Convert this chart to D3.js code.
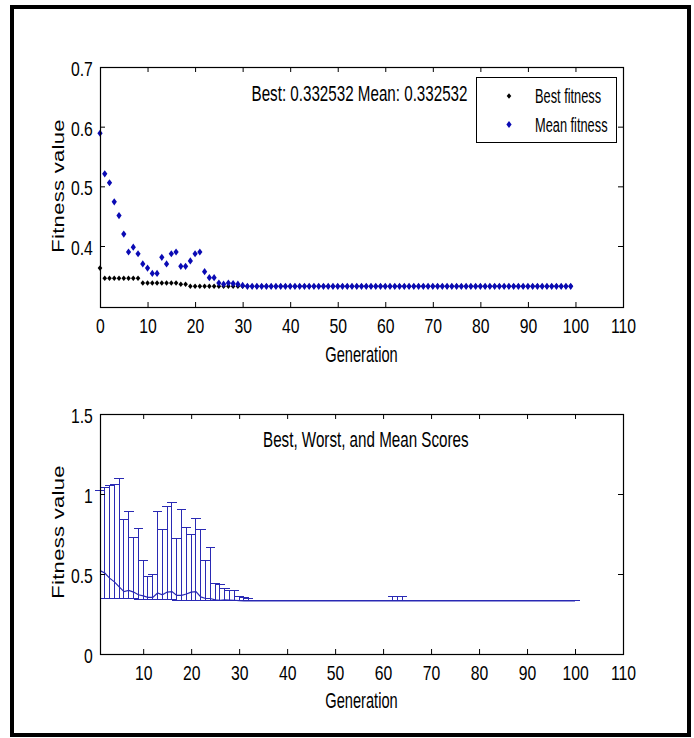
<!DOCTYPE html>
<html>
<head>
<meta charset="utf-8">
<script src="https://cdn.jsdelivr.net/npm/d3@7"></script>
<style>
  body { margin: 0; background: #fff; }
  text { font-family: "Liberation Sans", Arial, sans-serif; fill: #000; }
</style>
</head>
<body>
<div id="chart"></div>
<script>

// best and mean fitness, generation 0..100
var bestFitness = [
  0.363, 0.346, 0.346, 0.346, 0.346, 0.346, 0.346, 0.346, 0.346, 0.338,
  0.338, 0.338, 0.338, 0.338, 0.338, 0.338, 0.338, 0.336, 0.336, 0.3325,
  0.3325, 0.3325, 0.3325, 0.3325, 0.3325, 0.3325, 0.3325, 0.3325, 0.3325, 0.3325,
  0.3325, 0.3325, 0.3325, 0.3325, 0.3325, 0.3325, 0.3325, 0.3325, 0.3325, 0.3325,
  0.3325, 0.3325, 0.3325, 0.3325, 0.3325, 0.3325, 0.3325, 0.3325, 0.3325, 0.3325,
  0.3325, 0.3325, 0.3325, 0.3325, 0.3325, 0.3325, 0.3325, 0.3325, 0.3325, 0.3325,
  0.3325, 0.3325, 0.3325, 0.3325, 0.3325, 0.3325, 0.3325, 0.3325, 0.3325, 0.3325,
  0.3325, 0.3325, 0.3325, 0.3325, 0.3325, 0.3325, 0.3325, 0.3325, 0.3325, 0.3325,
  0.3325, 0.3325, 0.3325, 0.3325, 0.3325, 0.3325, 0.3325, 0.3325, 0.3325, 0.3325,
  0.3325, 0.3325, 0.3325, 0.3325, 0.3325, 0.3325, 0.3325, 0.3325, 0.3325, 0.3325,
  0.3325
];
var meanFitness = [
  0.589, 0.521, 0.506, 0.474, 0.451, 0.420, 0.390, 0.398, 0.387, 0.370,
  0.363, 0.354, 0.354, 0.381, 0.370, 0.387, 0.390, 0.366, 0.366, 0.375,
  0.387, 0.390, 0.357, 0.347, 0.347, 0.338, 0.336, 0.338, 0.337, 0.336,
  0.334, 0.3325, 0.3325, 0.3325, 0.3325, 0.3325, 0.3325, 0.3325, 0.3325, 0.3325,
  0.3325, 0.3325, 0.3325, 0.3325, 0.3325, 0.3325, 0.3325, 0.3325, 0.3325, 0.3325,
  0.3325, 0.3325, 0.3325, 0.3325, 0.3325, 0.3325, 0.3325, 0.3325, 0.3325, 0.3325,
  0.3325, 0.3325, 0.3325, 0.3325, 0.3325, 0.3325, 0.3325, 0.3325, 0.3325, 0.3325,
  0.3325, 0.3325, 0.3325, 0.3325, 0.3325, 0.3325, 0.3325, 0.3325, 0.3325, 0.3325,
  0.3325, 0.3325, 0.3325, 0.3325, 0.3325, 0.3325, 0.3325, 0.3325, 0.3325, 0.3325,
  0.3325, 0.3325, 0.3325, 0.3325, 0.3325, 0.3325, 0.3325, 0.3325, 0.3325, 0.3325,
  0.3325
];
// worst score, generation 1..100
var worstScore = [
  1.02, 1.04, 1.056, 1.06, 1.098, 0.84, 0.89, 0.731, 0.783, 0.586,
  0.483, 0.497, 0.89, 0.776, 0.921, 0.944, 0.72, 0.903, 0.793, 0.745,
  0.845, 0.776, 0.582, 0.665, 0.441, 0.435, 0.41, 0.40, 0.40, 0.362,
  0.352, 0.345, 0.3325, 0.3325, 0.3325, 0.3325, 0.3325, 0.3325, 0.3325, 0.3325,
  0.3325, 0.3325, 0.3325, 0.3325, 0.3325, 0.3325, 0.3325, 0.3325, 0.3325, 0.3325,
  0.3325, 0.3325, 0.3325, 0.3325, 0.3325, 0.3325, 0.3325, 0.3325, 0.3325, 0.3325,
  0.3325, 0.358, 0.358, 0.358, 0.3325, 0.3325, 0.3325, 0.3325, 0.3325, 0.3325,
  0.3325, 0.3325, 0.3325, 0.3325, 0.3325, 0.3325, 0.3325, 0.3325, 0.3325, 0.3325,
  0.3325, 0.3325, 0.3325, 0.3325, 0.3325, 0.3325, 0.3325, 0.3325, 0.3325, 0.3325,
  0.3325, 0.3325, 0.3325, 0.3325, 0.3325, 0.3325, 0.3325, 0.3325, 0.3325, 0.3325
];

var topXTicks = [0, 10, 20, 30, 40, 50, 60, 70, 80, 90, 100, 110];
var topYTicks = [0.4, 0.5, 0.6, 0.7];
var botXTicks = [10, 20, 30, 40, 50, 60, 70, 80, 90, 100, 110];
var botYTicks = [0, 0.5, 1, 1.5];
var legendLabels = ["Best fitness", "Mean fitness"];
var topTitle = "Best: 0.332532 Mean: 0.332532";
var botTitle = "Best, Worst, and Mean Scores";

var blue = "#0a0ab4",
    lineBlue = "#2a2ab4";

var svg = d3.select("#chart").append("svg")
    .attr("width", 694)
    .attr("height", 738);

// outer frame
svg.append("rect")
    .attr("x", 12).attr("y", 7)
    .attr("width", 677).attr("height", 728)
    .attr("fill", "none")
    .attr("stroke", "#000")
    .attr("stroke-width", 4);

function label(x, y, str, anchor, size, sx) {
  return svg.append("text")
      .attr("transform", "translate(" + x + "," + y + ") scale(" + sx + ",1)")
      .attr("text-anchor", anchor)
      .style("font-size", size + "px")
      .text(str);
}

function ylabel(x, y, str) {
  return svg.append("text")
      .attr("transform", "translate(" + x + "," + y + ") rotate(-90) scale(1,0.72)")
      .attr("text-anchor", "middle")
      .style("font-size", "22px")
      .style("letter-spacing", "0.3px")
      .text(str);
}

function diamond(hw, hh) {
  return "M0," + (-hh) + "L" + hw + ",0L0," + hh + "L" + (-hw) + ",0Z";
}

// box, inward ticks on all four sides, labels bottom and left
function drawAxes(x, y, xt, yt) {
  var x0 = x.range()[0], x1 = x.range()[1],
      y0 = y.range()[1], y1 = y.range()[0];

  svg.append("g").attr("transform", "translate(0," + y1 + ")")
      .call(d3.axisBottom(x).tickValues(xt).tickSize(-5).tickSizeOuter(0).tickPadding(11.5))
      .call(function(g) { g.select(".domain").remove(); })
      .selectAll("text").style("font-size", "21px").attr("transform", "scale(0.75,1)");

  svg.append("g").attr("transform", "translate(0," + y0 + ")")
      .call(d3.axisTop(x).tickValues(xt).tickSize(-5).tickSizeOuter(0).tickFormat(""))
      .call(function(g) { g.select(".domain").remove(); });

  svg.append("g").attr("transform", "translate(" + x0 + ",0)")
      .call(d3.axisLeft(y).tickValues(yt).tickSize(-5).tickSizeOuter(0).tickPadding(9.5)
        .tickFormat(d3.format("")))
      .call(function(g) { g.select(".domain").remove(); })
      .selectAll("text").style("font-size", "21px").attr("dy", "0.4em")
      .attr("transform", "scale(0.75,1)");

  svg.append("g").attr("transform", "translate(" + x1 + ",0)")
      .call(d3.axisRight(y).tickValues(yt).tickSize(-5).tickSizeOuter(0).tickFormat(""))
      .call(function(g) { g.select(".domain").remove(); });

  svg.selectAll(".tick line").attr("stroke", "#000");

  svg.append("rect")
      .attr("x", x0 + 0.5).attr("y", y0 + 0.5)
      .attr("width", x1 - x0).attr("height", y1 - y0)
      .attr("fill", "none")
      .attr("stroke", "#000")
      .attr("stroke-width", 1.2);
}

//--------------------------------------------------------------------------
//
// top: best and mean fitness
//

var xTop = d3.scaleLinear().domain([0, 110]).range([100, 623]);
var yTop = d3.scaleLinear().domain([0.2978, 0.7]).range([307, 67]);

var topGens = d3.range(0, 100);

svg.append("g").selectAll("path")
    .data(topGens)
  .enter().append("path")
    .attr("transform", function(d) { return "translate(" + xTop(d) + "," + yTop(bestFitness[d]) + ")"; })
    .attr("d", diamond(2.3, 2.8))
    .attr("fill", "#000");

svg.append("g").selectAll("path")
    .data(topGens)
  .enter().append("path")
    .attr("transform", function(d) { return "translate(" + xTop(d) + "," + yTop(meanFitness[d]) + ")"; })
    .attr("d", diamond(2.6, 3.6))
    .attr("fill", blue);

drawAxes(xTop, yTop, topXTicks, topYTicks);

label(359.5, 100.5, topTitle, "middle", 22, 0.69);
label(361.5, 362, "Generation", "middle", 22, 0.665);
ylabel(64, 186, "Fitness value");

// legend
var legend = svg.append("g");
legend.append("rect")
    .attr("x", 476.5).attr("y", 77.5)
    .attr("width", 140).attr("height", 65)
    .attr("fill", "#fff")
    .attr("stroke", "#000");
legend.selectAll("path")
    .data(legendLabels)
  .enter().append("path")
    .attr("transform", function(d, i) { return "translate(509," + (96 + i * 28.5) + ")"; })
    .attr("d", function(d, i) { return i === 0 ? diamond(2.3, 2.8) : diamond(2.6, 3.6); })
    .attr("fill", function(d, i) { return i === 0 ? "#000" : blue; });
legendLabels.forEach(function(d, i) {
  label(535, 103 + i * 28.5, d, "start", 20, 0.64);
});

//--------------------------------------------------------------------------
//
// bottom: best, worst and mean scores (error bars)
//

var xBot = d3.scaleLinear().domain([1, 110]).range([100, 623]);
var yBot = d3.scaleLinear().domain([0, 1.5]).range([654, 414]);

var botGens = d3.range(1, 101);
var tee = 0.99;

var bars = svg.append("g")
    .attr("stroke", lineBlue)
    .attr("stroke-width", 1)
    .attr("shape-rendering", "crispEdges")
    .attr("fill", "none");

bars.selectAll(".stem")
    .data(botGens)
  .enter().append("line")
    .attr("class", "stem")
    .attr("x1", function(d) { return xBot(d); })
    .attr("x2", function(d) { return xBot(d); })
    .attr("y1", function(d) { return yBot(bestFitness[d]); })
    .attr("y2", function(d) { return yBot(worstScore[d - 1]); });

bars.selectAll(".capTop")
    .data(botGens)
  .enter().append("line")
    .attr("class", "capTop")
    .attr("x1", function(d) { return xBot(d - tee); })
    .attr("x2", function(d) { return xBot(d + tee); })
    .attr("y1", function(d) { return yBot(worstScore[d - 1]); })
    .attr("y2", function(d) { return yBot(worstScore[d - 1]); });

bars.selectAll(".capBot")
    .data(botGens)
  .enter().append("line")
    .attr("class", "capBot")
    .attr("x1", function(d) { return Math.max(xBot(d - tee), xBot(1)); })
    .attr("x2", function(d) { return xBot(d + tee); })
    .attr("y1", function(d) { return yBot(bestFitness[d]); })
    .attr("y2", function(d) { return yBot(bestFitness[d]); });

svg.append("path")
    .datum(botGens)
    .attr("fill", "none")
    .attr("stroke", lineBlue)
    .attr("stroke-width", 1.2)
    .attr("d", d3.line()
      .x(function(d) { return xBot(d); })
      .y(function(d) { return yBot(meanFitness[d]); }));

drawAxes(xBot, yBot, botXTicks, botYTicks);

label(365.8, 446.5, botTitle, "middle", 22, 0.69);
label(361.5, 708, "Generation", "middle", 22, 0.665);
ylabel(64, 532, "Fitness value");

</script>
</body>
</html>
